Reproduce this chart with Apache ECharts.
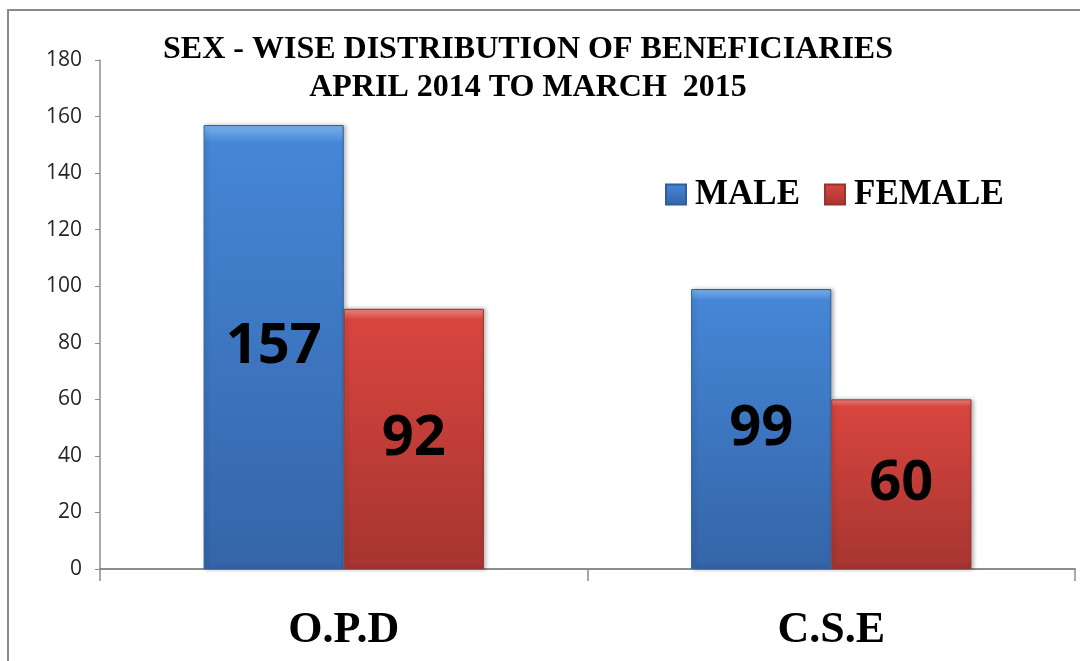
<!DOCTYPE html>
<html>
<head>
<meta charset="utf-8">
<script src="https://cdn.jsdelivr.net/npm/echarts@6/dist/echarts.min.js"></script>
<style>
html,body{margin:0;padding:0;background:#fff;}
#chart{width:1080px;height:661px;}
</style>
</head>
<body>
<div id="chart"></div>
<script>
const categories = ['O.P.D', 'C.S.E'];
const maleValues = [157, 99];
const femaleValues = [92, 60];
const seriesNames = ['MALE', 'FEMALE'];
const titleText = 'SEX - WISE DISTRIBUTION OF BENEFICIARIES\nAPRIL 2014 TO MARCH  2015';

const chart = echarts.init(document.getElementById('chart'));

function grad(top, mid, bottom) {
  return new echarts.graphic.LinearGradient(0, 0, 0, 1, [
    { offset: 0, color: top },
    { offset: 0.04, color: mid },
    { offset: 1, color: bottom }
  ]);
}

const serif = '"Liberation Serif", "Times New Roman", serif';

chart.setOption({
  animation: false,
  backgroundColor: '#ffffff',
  graphic: [{
    type: 'rect',
    shape: { x: 8, y: 10, width: 1200, height: 800 },
    style: { fill: 'none', stroke: '#8a8a8a', lineWidth: 2 },
    silent: true
  }],
  title: {
    text: titleText,
    left: 523,
    top: 26,
    textAlign: 'center',
    textStyle: {
      fontFamily: serif,
      fontWeight: 'bold',
      fontSize: 32,
      lineHeight: 38,
      color: '#000'
    }
  },
  legend: {
    data: seriesNames,
    left: 660,
    top: 172,
    itemWidth: 20,
    itemHeight: 20,
    itemGap: 24,
    icon: 'rect',
    textStyle: {
      fontFamily: serif,
      fontWeight: 'bold',
      fontSize: 35,
      color: '#000',
      padding: [0, 0, 0, 4]
    }
  },
  grid: { left: 100, right: 5, top: 60, bottom: 92 },
  xAxis: {
    type: 'category',
    data: categories,
    axisLine: { lineStyle: { color: '#8c8c8c', width: 2 } },
    axisTick: { show: true, length: 12, lineStyle: { color: '#8c8c8c', width: 1.5 } },
    axisLabel: {
      margin: 40,
      fontFamily: serif,
      fontWeight: 'bold',
      fontSize: 44,
      color: '#000'
    }
  },
  yAxis: {
    type: 'value',
    min: 0,
    max: 180,
    interval: 20,
    splitLine: { show: false },
    axisLine: { show: true, lineStyle: { color: '#8c8c8c', width: 1.5 } },
    axisTick: { show: true, length: 5, lineStyle: { color: '#8c8c8c' } },
    axisLabel: {
      margin: 18,
      fontFamily: '"Open Sans", sans-serif',
      fontSize: 21,
      color: '#262626'
    }
  },
  series: [
    {
      name: seriesNames[0],
      type: 'bar',
      data: maleValues,
      barGap: '0%',
      barCategoryGap: '42.5%',
      itemStyle: {
        color: grad('#7db3ee', '#4586d6', '#3465a8'),
        borderColor: '#2f5f9e',
        borderWidth: 1,
        shadowBlur: 4,
        shadowOffsetX: 2,
        shadowColor: 'rgba(0,0,0,0.3)'
      },
      label: {
        show: true,
        position: 'inside',
        fontFamily: '"Open Sans", sans-serif',
        fontWeight: 'bold',
        fontSize: 56,
        color: '#000'
      }
    },
    {
      name: seriesNames[1],
      type: 'bar',
      data: femaleValues,
      itemStyle: {
        color: grad('#ef8a86', '#d9453f', '#a63530'),
        borderColor: '#963330',
        borderWidth: 1,
        shadowBlur: 4,
        shadowOffsetX: 2,
        shadowColor: 'rgba(0,0,0,0.3)'
      },
      label: {
        show: true,
        position: 'inside',
        fontFamily: '"Open Sans", sans-serif',
        fontWeight: 'bold',
        fontSize: 56,
        color: '#000'
      }
    }
  ]
});
</script>
</body>
</html>
